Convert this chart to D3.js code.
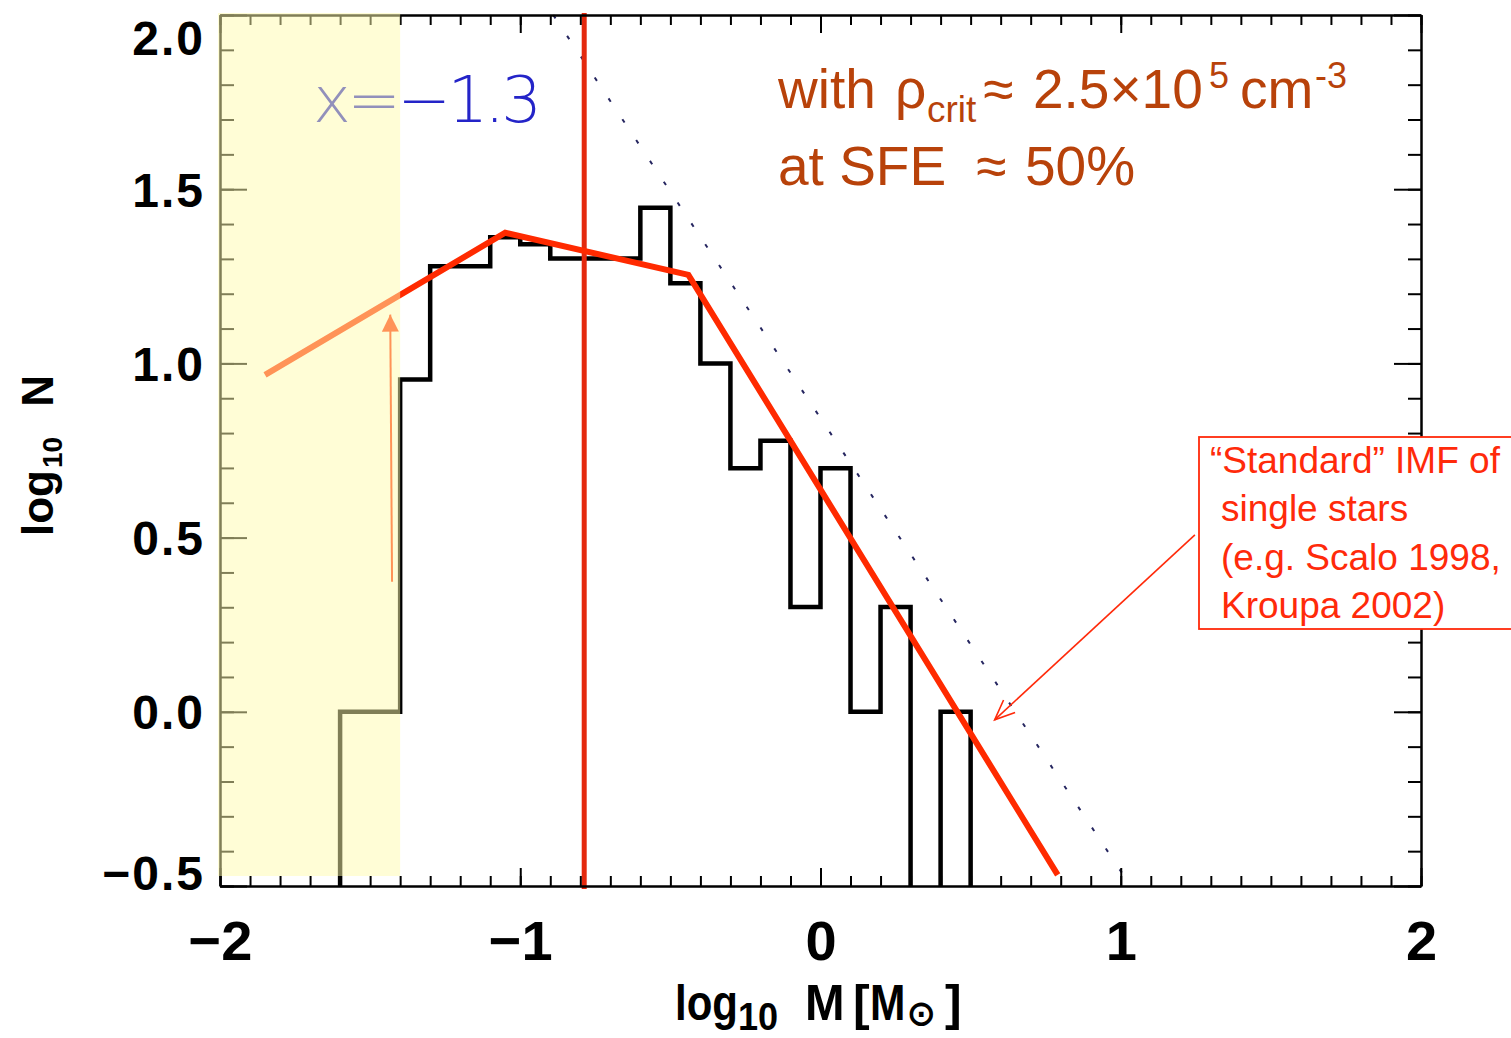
<!DOCTYPE html>
<html><head><meta charset="utf-8">
<script src="https://cdn.jsdelivr.net/npm/d3@7"></script>
<style>body{margin:0;background:#fff;overflow:hidden}</style>
</head><body>
<svg id="c" width="1511" height="1038"></svg>
<script>
// ---- data ----
const binLeft = [-1.6,-1.5,-1.4,-1.3,-1.2,-1.1,-1.0,-0.9,-0.8,-0.7,-0.6,-0.5,-0.4,-0.3,-0.2,-0.1,0.0,0.1,0.2,0.3,0.4];
const binLogN = [0,0,0.954,1.279,1.279,1.362,1.342,1.301,1.301,1.301,1.447,1.230,1.0,0.699,0.778,0.301,0.699,0,0.301,null,0];
const binWidth = 0.1;
const fitX = [-1.85,-1.05,-0.44,0.79];
const fitY = [0.967,1.375,1.254,-0.468];
const refX = [-0.89,1.033];
const refY = [2.0,-0.5];
const critX = -0.787;
const shadeX = [-2,-1.4];
const pointerX = [-1.427,-1.433];
const pointerY = [0.373,1.14];
const calloutX = [1.247,0.58];
const calloutY = [0.508,-0.023];
const xMajor = [-2,-1,0,1,2];
const yMajor = [-0.5,0,0.5,1,1.5,2];
const xTickLabels = ["\u22122","\u22121","0","1","2"];
const yTickLabels = ["\u22120.5","0.0","0.5","1.0","1.5","2.0"];
const boxLines = ["\u201CStandard\u201D IMF of","single stars","(e.g. Scalo 1998,","Kroupa 2002)"];

// ---- scales ----
const L=220,R=1421,T=15,B=886;
const x = d3.scaleLinear([-2,2],[L,R]);
const y = d3.scaleLinear([-0.5,2],[B,T]);
const svg = d3.select("#c");
svg.append("rect").attr("width",1511).attr("height",1038).attr("fill","#fff");
const defs = svg.append("defs");
defs.append("clipPath").attr("id","clip")
  .append("rect").attr("x",L).attr("y",T).attr("width",R-L).attr("height",B-T);

const xMinor = d3.range(-20,21).map(i=>i/10);
const yMinor = d3.range(-5,21).map(i=>i/10);
const line = d3.line().x(d=>x(d[0])).y(d=>y(d[1]));

// histogram
const floor = -0.56;
const pts = [[binLeft[0],floor]];
binLeft.forEach((l,i)=>{ const v = binLogN[i]==null?floor:binLogN[i]; pts.push([l,v],[l+binWidth,v]); });
pts.push([binLeft[binLeft.length-1]+binWidth,floor]);
svg.append("path").attr("clip-path","url(#clip)").attr("d",line(pts))
  .attr("fill","none").attr("stroke","#000").attr("stroke-width",4.5).attr("stroke-linejoin","miter");

// dotted reference slope
svg.append("path").attr("d",line(refX.map((v,i)=>[v,refY[i]])))
  .attr("fill","none").attr("stroke","#262660").attr("stroke-width",2).attr("stroke-dasharray","4,21");

// vertical critical line
svg.append("line").attr("x1",x(critX)).attr("x2",x(critX)).attr("y1",T-2).attr("y2",B+3)
  .attr("stroke","#e4290e").attr("stroke-width",5);

// fit line
svg.append("path").attr("d",line(fitX.map((v,i)=>[v,fitY[i]])))
  .attr("fill","none").attr("stroke","#ff2a00").attr("stroke-width",6).attr("stroke-linejoin","miter");

// pointer arrow (under shading)
defs.append("marker").attr("id","tri").attr("viewBox","-20 -10 22 20").attr("refX",0).attr("refY",0)
  .attr("markerUnits","userSpaceOnUse").attr("markerWidth",22).attr("markerHeight",20).attr("orient","auto")
  .append("path").attr("d","M-17,-8.5L0,0L-17,8.5Z").attr("fill","#ff2a00");
svg.append("line").attr("x1",x(pointerX[0])).attr("y1",y(pointerY[0])).attr("x2",x(pointerX[1])).attr("y2",y(pointerY[1]))
  .attr("stroke","#ff2a00").attr("stroke-width",2).attr("marker-end","url(#tri)");

// x = -1.3 label
svg.append("text").attr("x",313).attr("y",122).attr("fill","#2424c8")
  .attr("font-family","DejaVu Sans").attr("font-weight",200).attr("font-size",64)
  .attr("textLength",229).attr("lengthAdjust","spacing").text("x=\u22121.3");

// axes
svg.append("g").attr("transform",`translate(0,${B})`).call(d3.axisBottom(x).tickValues(xMinor).tickSize(-10).tickSizeOuter(0).tickFormat(""));
const gB2 = svg.append("g").attr("transform",`translate(0,${B})`).call(d3.axisBottom(x).tickValues(xMajor).tickSize(-18).tickSizeOuter(0).tickFormat((d,i)=>xTickLabels[i]));
svg.append("g").attr("transform",`translate(0,${T})`).call(d3.axisTop(x).tickValues(xMinor).tickSize(-10).tickSizeOuter(0).tickFormat(""));
svg.append("g").attr("transform",`translate(0,${T})`).call(d3.axisTop(x).tickValues(xMajor).tickSize(-18).tickSizeOuter(0).tickFormat(""));
svg.append("g").attr("transform",`translate(${L},0)`).call(d3.axisLeft(y).tickValues(yMinor).tickSize(-14).tickSizeOuter(0).tickFormat(""));
const gL2 = svg.append("g").attr("transform",`translate(${L},0)`).call(d3.axisLeft(y).tickValues(yMajor).tickSize(-27).tickSizeOuter(0).tickFormat((d,i)=>yTickLabels[i]));
svg.append("g").attr("transform",`translate(${R},0)`).call(d3.axisRight(y).tickValues(yMinor).tickSize(-13).tickSizeOuter(0).tickFormat(""));
svg.append("g").attr("transform",`translate(${R},0)`).call(d3.axisRight(y).tickValues(yMajor).tickSize(-27).tickSizeOuter(0).tickFormat(""));
svg.selectAll(".domain").attr("stroke","#000").attr("stroke-width",2);
svg.selectAll(".tick line").attr("stroke","#000").attr("stroke-width",2);

gB2.selectAll("text").attr("y",74).attr("dy",0).attr("fill","#000")
  .attr("font-family","'Liberation Sans Narrow','Liberation Sans',Arial").attr("font-weight","bold")
  .attr("font-size",56);
gL2.selectAll("text").attr("x",-15).attr("dy",0).attr("fill","#000")
  .attr("font-family","'Liberation Sans',Arial").attr("font-weight","bold").attr("font-size",48)
  .attr("letter-spacing",2)
  .attr("y",d=> d===2 ? 39 : (d===-0.5 ? 3 : 17));

// shading overlay (tints what lies beneath)
svg.append("rect").attr("x",x(shadeX[0])-2).attr("y",T-2).attr("width",x(shadeX[1])-x(shadeX[0])+2).attr("height",876-(T-2))
  .attr("fill","rgb(255,251,173)").attr("opacity",0.5);

// axis titles
const xfont = "'Liberation Sans Narrow','Liberation Sans',Arial";
function xpiece(t,px,py,fs,sx){
  svg.append("g").attr("transform",`translate(${px},${py})`).append("text")
    .attr("font-family",xfont).attr("font-weight","bold").attr("font-size",fs)
    .attr("transform",`scale(${sx},1)`).attr("fill","#000").text(t);
}
xpiece("log",675,1020,50,0.84);
xpiece("10",738,1030,38,0.95);
xpiece("M",805,1020,50,0.95);
xpiece("[",853,1020,50,1);
xpiece("M",870,1020,50,0.85);
xpiece("\u2299",907,1025,34,1);
xpiece("]",945,1020,50,1);

const yt = svg.append("text").attr("transform","translate(53,536) rotate(-90)")
  .attr("font-family","'Liberation Sans',Arial").attr("font-weight","bold").attr("font-size",44).attr("fill","#000");
yt.append("tspan").text("log");
yt.append("tspan").attr("font-size",28).attr("dy",9).attr("dx",2).text("10");
yt.append("tspan").attr("dy",-9).attr("dx",30).text("N");

// callout box
defs.append("marker").attr("id","open").attr("viewBox","-24 -12 26 24").attr("refX",0).attr("refY",0)
  .attr("markerUnits","userSpaceOnUse").attr("markerWidth",26).attr("markerHeight",24).attr("orient","auto")
  .append("path").attr("d","M-20,-8.5L0,0L-20,8.5").attr("fill","none").attr("stroke","#ff2a0a").attr("stroke-width",1.6);
svg.append("line").attr("x1",x(calloutX[0])).attr("y1",y(calloutY[0])).attr("x2",x(calloutX[1])).attr("y2",y(calloutY[1]))
  .attr("stroke","#ff2a0a").attr("stroke-width",1.6).attr("marker-end","url(#open)");
svg.append("rect").attr("x",1199).attr("y",437).attr("width",340).attr("height",192)
  .attr("fill","#fff").attr("stroke","#ff2a0a").attr("stroke-width",1.8);
const bt = svg.append("text").attr("font-family","'Liberation Sans',Arial").attr("font-size",37).attr("fill","#ff2a0a");
boxLines.forEach((t,i)=>bt.append("tspan").attr("x",i===0?1210:1221).attr("y",473+i*48.3).text(t));

// top annotation
const tc = "#b8420a";
const tf = "'Liberation Sans',Arial";
function put(t,px,py,fs){ svg.append("text").attr("x",px).attr("y",py).attr("font-family",tf).attr("font-size",fs).attr("fill",tc).text(t); }
put("with",778,108,55);
put("\u03C1",895,108,55);
put("crit",927,122,37);
put("\u2248",983,108,55);
put("2.5\u00D710",1033,108,55);
put("5",1209,88,36);
put("cm",1240,108,55);
put("-3",1315,88,36);
put("at SFE",778,185,55);
put("\u2248",976,185,55);
put("50%",1025,185,55);
</script>
</body></html>
